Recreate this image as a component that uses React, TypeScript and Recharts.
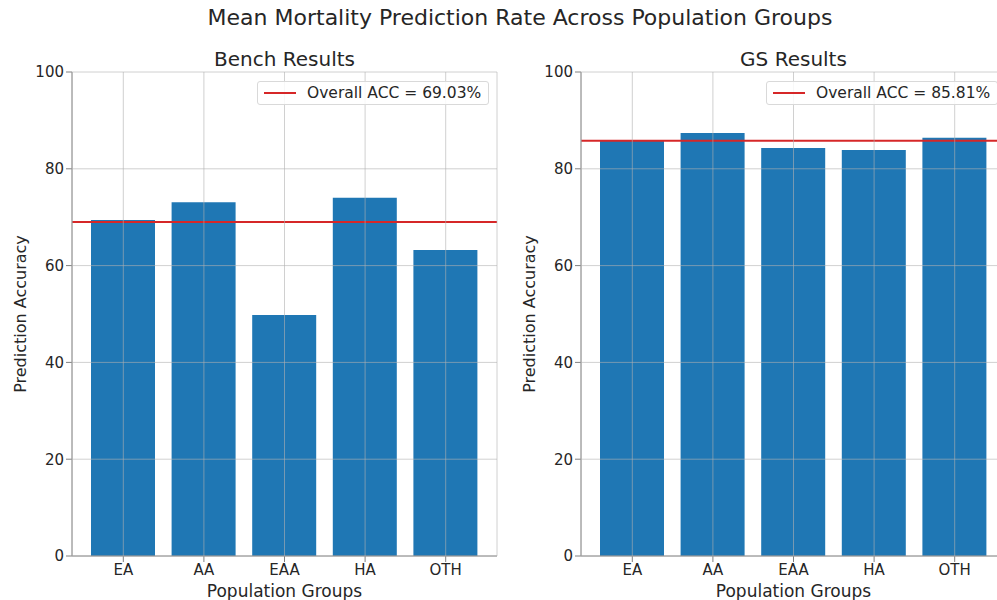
import React from 'react';
import { BarChart, Bar, XAxis, YAxis, CartesianGrid, ReferenceLine } from 'recharts';

const categories = ['EA', 'AA', 'EAA', 'HA', 'OTH'];
const benchValues = [69.4, 73.1, 49.8, 74.0, 63.2];
const gsValues = [85.9, 87.4, 84.3, 83.9, 86.4];
const benchOverall = 69.03;
const gsOverall = 85.81;
const yTicks = [0, 20, 40, 60, 80, 100];

const FONT = '"DejaVu Sans", sans-serif';
const TEXT = '#262626';
const SPINE = '#808080';

interface PanelProps {
  title: string;
  values: number[];
  overall: number;
  left: number;
}

const Panel: React.FC<PanelProps> = ({ title, values, overall, left }) => {
  const data = categories.map((name, i) => ({ name, value: values[i] }));
  return (
    <div style={{ position: 'absolute', left, top: 0, width: 510, height: 600 }}>
      <div
        style={{
          position: 'absolute',
          left: 72,
          width: 425,
          top: 47,
          textAlign: 'center',
          fontSize: 20,
          color: TEXT,
        }}
      >
        {title}
      </div>
      <BarChart width={510} height={600} data={data} margin={{ top: 72, right: 13, bottom: 0, left: 0 }}>
        <XAxis
          dataKey="name"
          height={44}
          padding={{ left: 11, right: 11 }}
          axisLine={{ stroke: SPINE }}
          tickLine={{ stroke: SPINE }}
          tick={{ fill: TEXT, fontSize: 15, fontFamily: FONT }}
          label={{ value: 'Population Groups', position: 'insideBottom', offset: 3, fill: TEXT, fontSize: 17, fontFamily: FONT }}
        />
        <XAxis xAxisId="top" orientation="top" dataKey="name" height={0} tick={false} tickLine={false} axisLine={{ stroke: SPINE }} />
        <YAxis
          domain={[0, 100]}
          ticks={yTicks}
          width={72}
          axisLine={{ stroke: SPINE }}
          tickLine={{ stroke: SPINE }}
          tick={{ fill: TEXT, fontSize: 15, fontFamily: FONT }}
          label={{ value: 'Prediction Accuracy', angle: -90, position: 'center', dx: -16, fill: TEXT, fontSize: 16, fontFamily: FONT }}
        />
        <YAxis yAxisId="right" orientation="right" width={0} tick={false} tickLine={false} axisLine={{ stroke: SPINE }} />
        <Bar dataKey="value" fill="#1f77b4" barSize={64} isAnimationActive={false} />
        <CartesianGrid stroke="#b0b0b0" strokeOpacity={0.6} zIndex={500} />
        <ReferenceLine y={overall} stroke="#d62728" strokeWidth={2} />
      </BarChart>
      <div
        style={{
          position: 'absolute',
          left: 257,
          top: 81,
          width: 230,
          height: 22,
          border: '1px solid #d9d9d9',
          borderRadius: 3,
          background: 'rgba(255,255,255,0.85)',
          display: 'flex',
          alignItems: 'center',
          fontSize: 15.5,
          color: TEXT,
          whiteSpace: 'nowrap',
        }}
      >
        <svg width={44} height={10} style={{ marginLeft: 5, flexShrink: 0 }}>
          <line x1={1} y1={5} x2={33} y2={5} stroke="#d62728" strokeWidth={2} />
        </svg>
        <span>Overall ACC = {overall.toFixed(2)}%</span>
      </div>
    </div>
  );
};

const App: React.FC = () => {
  return (
    <div
      style={{
        position: 'fixed',
        left: 0,
        top: 0,
        width: 997,
        height: 600,
        overflow: 'hidden',
        background: '#fff',
        fontFamily: FONT,
      }}
    >
      <div
        style={{
          position: 'absolute',
          left: 0,
          width: 1040,
          top: 5,
          textAlign: 'center',
          fontSize: 22,
          color: TEXT,
        }}
      >
        Mean Mortality Prediction Rate Across Population Groups
      </div>
      <Panel title="Bench Results" values={benchValues} overall={benchOverall} left={0} />
      <Panel title="GS Results" values={gsValues} overall={gsOverall} left={509} />
    </div>
  );
};

export default App;
